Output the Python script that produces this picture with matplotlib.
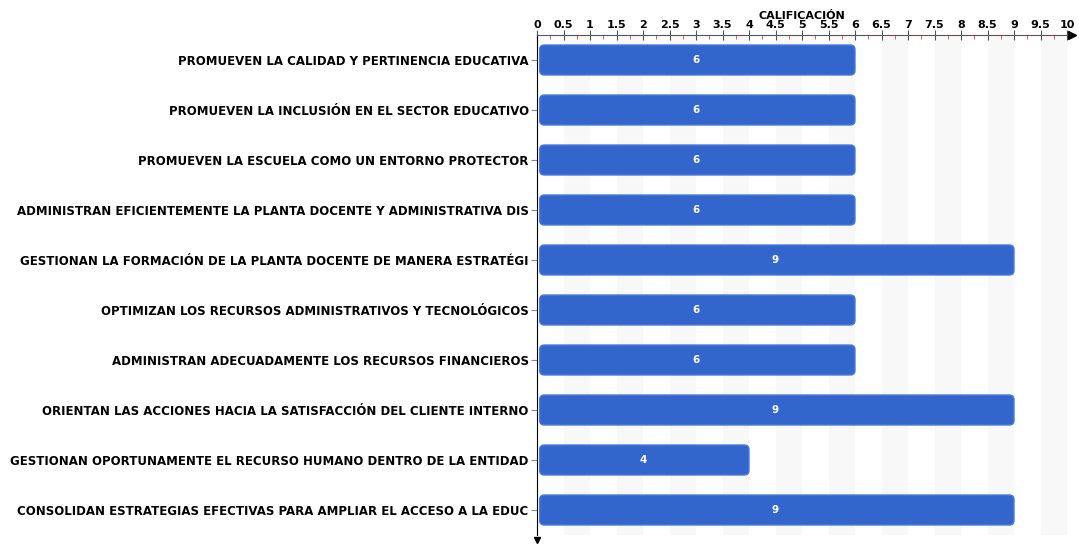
import numpy as np
import matplotlib.pyplot as plt
from matplotlib.patches import FancyBboxPatch

categories = [
    'PROMUEVEN LA CALIDAD Y PERTINENCIA EDUCATIVA',
    'PROMUEVEN LA INCLUSIÓN EN EL SECTOR EDUCATIVO',
    'PROMUEVEN LA ESCUELA COMO UN ENTORNO PROTECTOR',
    'ADMINISTRAN EFICIENTEMENTE LA PLANTA DOCENTE Y ADMINISTRATIVA DIS',
    'GESTIONAN LA FORMACIÓN DE LA PLANTA DOCENTE DE MANERA ESTRATÉGI',
    'OPTIMIZAN LOS RECURSOS ADMINISTRATIVOS Y TECNOLÓGICOS',
    'ADMINISTRAN ADECUADAMENTE LOS RECURSOS FINANCIEROS',
    'ORIENTAN LAS ACCIONES HACIA LA SATISFACCIÓN DEL CLIENTE INTERNO',
    'GESTIONAN OPORTUNAMENTE EL RECURSO HUMANO DENTRO DE LA ENTIDAD',
    'CONSOLIDAN ESTRATEGIAS EFECTIVAS PARA AMPLIAR EL ACCESO A LA EDUC',
]
values = [6, 6, 6, 6, 9, 6, 6, 9, 4, 9]
xticks = np.arange(0, 10.5, 0.5)

BAR = '#3366cc'
EDGE = '#4a7be0'

fig = plt.figure(figsize=(10.79, 5.45), dpi=100)
ax = fig.add_axes([537/1079, 10/545, 530/1079, 500/545])

ax.set_xlim(0, 10)
ax.set_ylim(len(categories) - 0.5, -0.5)

# alternating background stripes
for s in np.arange(0.5, 10, 1.0):
    ax.axvspan(s, s + 0.5, color='#f8f8f8', zorder=0, lw=0)

h = 0.6
for i, v in enumerate(values):
    p = FancyBboxPatch((0.05, i - h/2), v - 0.05, h,
                       boxstyle='round,pad=0,rounding_size=0.09',
                       mutation_aspect=1.0, fc=BAR, ec=EDGE, lw=1, zorder=2)
    ax.add_patch(p)
    ax.text(v / 2, i, '%g' % v, color='white', ha='center', va='center',
            fontsize=7.5, fontweight='bold', zorder=3)

ax.set_yticks(range(len(categories)))
ax.set_yticklabels(categories, fontsize=8.5, fontweight='bold')
ax.tick_params(axis='y', length=4, color='#888888', pad=2)

ax.xaxis.tick_top()
ax.xaxis.set_label_position('top')
ax.set_xticks(xticks)
ax.set_xticklabels(['%g' % t for t in xticks], fontsize=8, fontweight='bold')
ax.set_xticks(np.arange(0.25, 10, 0.5), minor=True)
ax.tick_params(axis='x', which='major', direction='inout', length=7,
               color='#555555', pad=0)
ax.tick_params(axis='x', which='minor', direction='in', length=3,
               color='#ff3333')
ax.set_xlabel('CALIFICACIÓN', fontsize=8, fontweight='bold', labelpad=1)

for side in ['right', 'bottom']:
    ax.spines[side].set_visible(False)
ax.spines['top'].set_color('#555555')
ax.spines['left'].set_color('black')

# axis arrows
ax.plot(1.01, 1, '>', color='black', ms=6, transform=ax.transAxes, clip_on=False)
ax.plot(0, -0.01, 'v', color='black', ms=5, transform=ax.transAxes, clip_on=False)

plt.savefig('out.png', dpi=100)
